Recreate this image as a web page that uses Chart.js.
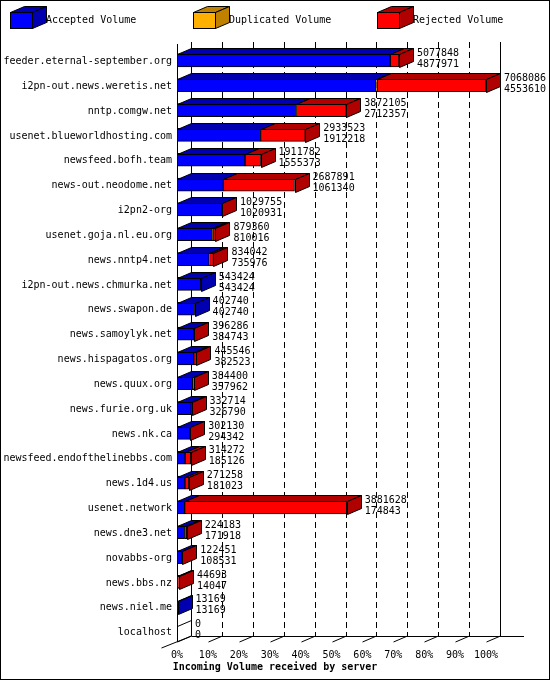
<!DOCTYPE html>
<html>
<head>
<meta charset="utf-8">
<script src="https://cdn.jsdelivr.net/npm/chart.js@4.4.1/dist/chart.umd.min.js"></script>
<style>
  html, body { margin: 0; padding: 0; background: #fff; }
  #wrap { width: 550px; height: 680px; }
</style>
</head>
<body>
<div id="wrap"><canvas id="chart" width="550" height="680"></canvas></div>
<script>
const servers = [
  'feeder.eternal-september.org', 'i2pn-out.news.weretis.net', 'nntp.comgw.net',
  'usenet.blueworldhosting.com', 'newsfeed.bofh.team', 'news-out.neodome.net',
  'i2pn2-org', 'usenet.goja.nl.eu.org', 'news.nntp4.net', 'i2pn-out.news.chmurka.net',
  'news.swapon.de', 'news.samoylyk.net', 'news.hispagatos.org', 'news.quux.org',
  'news.furie.org.uk', 'news.nk.ca', 'newsfeed.endofthelinebbs.com', 'news.1d4.us',
  'usenet.network', 'news.dne3.net', 'novabbs-org', 'news.bbs.nz', 'news.niel.me', 'localhost'
];
const totalVolume = [
  5077848, 7068086, 3872105, 2933523, 1911782, 2687891, 1029755, 879360, 834042, 543424,
  402740, 396286, 445546, 384400, 332714, 302130, 314272, 271258, 3881628, 224183,
  122451, 44693, 13169, 0
];
const acceptedVolume = [
  4877971, 4553610, 2712357, 1912218, 1555373, 1061340, 1020931, 810016, 735976, 543424,
  402740, 384743, 382523, 357962, 326790, 294342, 185126, 181023, 174843, 171918,
  108531, 14047, 13169, 0
];
const duplicatedVolume = [
  0, 22000, 18000, 0, 0, 0, 0, 10000, 8000, 0,
  0, 0, 0, 0, 0, 0, 0, 0, 0, 0,
  0, 0, 0, 0
];
const rejectedVolume = totalVolume.map((t, i) => t - acceptedVolume[i] - duplicatedVolume[i]);
const tickPercents = [0, 10, 20, 30, 40, 50, 60, 70, 80, 90, 100];
const maxVolume = Math.max(...totalVolume);

const DX = 14, DY = 6;
const FONT = '10px "DejaVu Sans Mono", monospace';
const faceColors = ['#0000ff', '#ffb000', '#ff0000'];
const darkColors = ['#0000b0', '#c08000', '#b00000'];

function box3d(ctx, x0, y0, x1, y1, front, dark, side) {
  ctx.strokeStyle = '#000';
  ctx.lineWidth = 1;
  ctx.fillStyle = dark;
  ctx.beginPath();
  ctx.moveTo(x0, y0); ctx.lineTo(x1, y0); ctx.lineTo(x1 + DX, y0 - DY); ctx.lineTo(x0 + DX, y0 - DY);
  ctx.closePath(); ctx.fill(); ctx.stroke();
  if (side) {
    ctx.beginPath();
    ctx.moveTo(x1, y0); ctx.lineTo(x1 + DX, y0 - DY); ctx.lineTo(x1 + DX, y1 - DY); ctx.lineTo(x1, y1);
    ctx.closePath(); ctx.fill(); ctx.stroke();
  }
  if (front) {
    ctx.fillStyle = front;
    ctx.fillRect(x0, y0, x1 - x0, y1 - y0);
    ctx.strokeRect(x0, y0, x1 - x0, y1 - y0);
  }
}

const decor = {
  id: 'decor',
  beforeDatasetsDraw(chart) {
    const ctx = chart.ctx;
    const xs = chart.scales.x, a = chart.chartArea;
    const fb = a.bottom - 2;
    ctx.save();
    ctx.strokeStyle = '#000';
    ctx.lineWidth = 1;
    // back wall grid
    tickPercents.forEach(p => {
      const x = Math.round(xs.getPixelForValue(maxVolume * p / 100)) + DX + 0.5;
      ctx.setLineDash(p === 0 || p === 100 ? [] : [6, 4]);
      ctx.beginPath(); ctx.moveTo(x, a.top - 6); ctx.lineTo(x, fb - DY); ctx.stroke();
    });
    ctx.setLineDash([]);
    // floor
    const x0 = Math.round(xs.left) + 0.5;
    ctx.beginPath(); ctx.moveTo(x0 + DX, fb - DY + 0.5); ctx.lineTo(xs.right + DX + 24, fb - DY + 0.5); ctx.stroke();
    ctx.beginPath(); ctx.moveTo(x0 - 16, fb + 6); ctx.lineTo(x0 + DX, fb - DY); ctx.stroke();
    tickPercents.forEach(p => {
      const x = Math.round(xs.getPixelForValue(maxVolume * p / 100)) + 0.5;
      ctx.beginPath(); ctx.moveTo(x, fb); ctx.lineTo(x + DX, fb - DY); ctx.stroke();
    });
    // front left axis
    ctx.beginPath(); ctx.moveTo(x0, a.top - 4); ctx.lineTo(x0, fb); ctx.stroke();
    ctx.restore();
  },
  afterDatasetsDraw(chart) {
    const ctx = chart.ctx;
    const xs = chart.scales.x, ys = chart.scales.y, a = chart.chartArea;
    ctx.save();
    ctx.font = FONT;
    servers.forEach((name, i) => {
      const yc = ys.getPixelForValue(i);
      const y0 = Math.round(yc - 6) + 0.5, y1 = y0 + 13;
      const vals = [acceptedVolume[i], duplicatedVolume[i], rejectedVolume[i]];
      let cum = 0;
      let last = -1;
      vals.forEach((v, k) => { if (v > 0) last = k; });
      vals.forEach((v, k) => {
        if (v <= 0) return;
        const xa = Math.round(xs.getPixelForValue(cum)) + 0.5;
        cum += v;
        const xb = Math.round(xs.getPixelForValue(cum)) + 0.5;
        box3d(ctx, xa, y0, xb, y1, null, darkColors[k], k === last);
      });
      if (last < 0) {
        const xa = Math.round(xs.left) + 0.5;
        ctx.strokeStyle = '#000';
        ctx.beginPath(); ctx.moveTo(xa, y0); ctx.lineTo(xa + DX, y0 - DY); ctx.stroke();
      }
      const xe = xs.getPixelForValue(totalVolume[i]) + DX + 4;
      ctx.fillStyle = '#000';
      ctx.textAlign = 'left';
      ctx.textBaseline = 'middle';
      ctx.fillText(String(totalVolume[i]), xe, yc - 7);
      ctx.fillText(String(acceptedVolume[i]), xe, yc + 4);
      ctx.textAlign = 'right';
      ctx.fillText(name, xs.left - 5, yc + 1);
    });
    // x tick labels
    ctx.textAlign = 'center';
    ctx.textBaseline = 'top';
    tickPercents.forEach(p => {
      ctx.fillText(p + '%', xs.getPixelForValue(maxVolume * p / 100), a.bottom + 6);
    });
    ctx.font = 'bold 10px "DejaVu Sans Mono", monospace';
    ctx.fillText('Incoming Volume received by server', 275, a.bottom + 18);
    // legend
    const legend = [['Accepted Volume', 10], ['Duplicated Volume', 193], ['Rejected Volume', 377]];
    ctx.font = FONT;
    legend.forEach(([label, lx], k) => {
      box3d(ctx, lx + 0.5, 12.5, lx + 22.5, 28.5, faceColors[k], darkColors[k], true);
      ctx.fillStyle = '#000';
      ctx.textAlign = 'left';
      ctx.textBaseline = 'middle';
      ctx.fillText(label, lx + 36, 20);
    });
    // border
    ctx.strokeStyle = '#000';
    ctx.strokeRect(0.5, 0.5, 549, 679);
    ctx.restore();
  }
};

new Chart(document.getElementById('chart'), {
  type: 'bar',
  data: {
    labels: servers,
    datasets: [
      { label: 'Accepted Volume', data: acceptedVolume, backgroundColor: faceColors[0] },
      { label: 'Duplicated Volume', data: duplicatedVolume, backgroundColor: faceColors[1] },
      { label: 'Rejected Volume', data: rejectedVolume, backgroundColor: faceColors[2] }
    ].map(d => Object.assign(d, { borderColor: '#000', borderWidth: 1, borderSkipped: false, barThickness: 13 }))
  },
  options: {
    indexAxis: 'y',
    responsive: false,
    animation: false,
    layout: { padding: { left: 177, right: 64, top: 48, bottom: 36 } },
    plugins: { legend: { display: false }, tooltip: { enabled: false } },
    scales: {
      x: { stacked: true, min: 0, max: maxVolume, display: false },
      y: { stacked: true, display: false }
    }
  },
  plugins: [decor]
});
</script>
</body>
</html>
